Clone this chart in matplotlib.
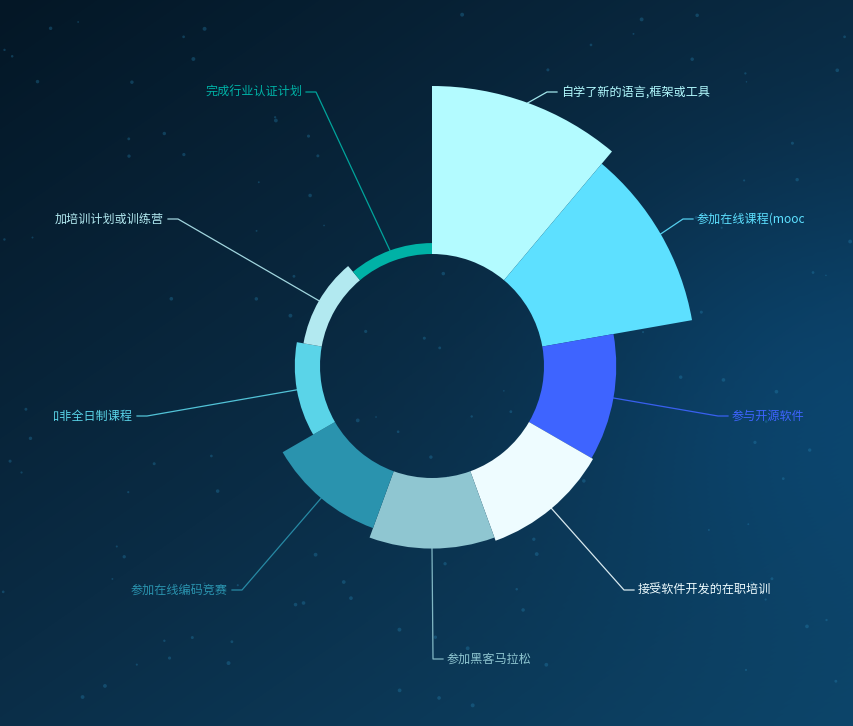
import numpy as np
import matplotlib
matplotlib.use("Agg")
import matplotlib.pyplot as plt
from matplotlib.colors import LinearSegmentedColormap
from matplotlib.transforms import Bbox, TransformedBbox

plt.rcParams['font.family'] = ['Noto Sans CJK SC', 'DejaVu Sans']

# data (clockwise from 12 o'clock)
labels = ['自学了新的语言,框架或工具', '参加在线课程(mooc)', '参与开源软件',
          '接受软件开发的在职培训', '参加黑客马拉松', '参加在线编码竞赛',
          '参加非全日制课程', '加培训计划或训练营', '完成行业认证计划']
values = [100, 90.5, 43, 44, 42, 36, 15, 11, 6.5]
colors = ['#b3fbff', '#5de0ff', '#3e64ff', '#eefcff', '#8fc6d1',
          '#2a93ae', '#5ad4e8', '#b2e9f0', '#00b2a6']

# label anchor (text x, y in pixels from top-left), alignment side
label_pos = [(561, 92), (697, 219), (732, 416), (638, 590), (447, 659),
             (228, 590), (133, 416), (164, 219), (302, 92)]
label_side = ['left', 'left', 'left', 'left', 'left',
              'right', 'right', 'right', 'right']

W, H = 854, 726
cx, cy = 432, 366          # centre, pixels from top-left
r_in, r_out = 112, 280     # inner / max radius in pixels
R = 290                    # radial axis limit

fig = plt.figure(figsize=(W / 100, H / 100), dpi=100)

# background
bg = fig.add_axes([0, 0, 1, 1])
yy, xx = np.mgrid[0:H, 0:W]
t = 0.55 * (yy / H) + 0.45 * (xx / W)
glow = np.exp(-(((xx - 820) / 260.0) ** 2 + ((yy - 380) / 220.0) ** 2))
cmap = LinearSegmentedColormap.from_list('bg', ['#041726', '#0a2c45', '#0d4468'])
img = cmap(np.clip(t, 0, 1))[:, :, :3]
img = img + glow[..., None] * np.array([0.0, 0.05, 0.09])
bg.imshow(np.clip(img, 0, 1), extent=[0, W, H, 0], aspect='auto')
rng = np.random.default_rng(7)
sx, sy = rng.uniform(0, W, 140), rng.uniform(0, H, 140)
bg.scatter(sx, sy, s=rng.uniform(1, 8, 140), c='#2a8fbf',
           alpha=0.3, linewidths=0)
bg.set_xlim(0, W)
bg.set_ylim(H, 0)
bg.axis('off')

# rose chart on a polar axes, radial units = pixels
ax = fig.add_axes([(cx - R) / W, (H - cy - R) / H, 2 * R / W, 2 * R / H],
                  projection='polar')
ax.set_theta_zero_location('N')
ax.set_theta_direction(-1)
ax.set_ylim(0, R)
ax.axis('off')
ax.patch.set_alpha(0)

n = len(values)
width = 2 * np.pi / n
theta = np.arange(n) * width + width / 2
vmax = max(values)
radii = [r_in + (r_out - r_in) * v / vmax for v in values]
heights = [r - r_in for r in radii]
ax.bar(theta, heights, width=width, bottom=r_in, color=colors,
       linewidth=0, align='center')

# leader lines + labels in pixel coordinates (overlay)
ov = fig.add_axes([0, 0, 1, 1])
ov.set_xlim(0, W)
ov.set_ylim(H, 0)
ov.axis('off')
ov.patch.set_alpha(0)
clip_box = TransformedBbox(Bbox([[54, 0], [804, H]]), ov.transData)
fig.canvas.draw()
for i in range(n):
    px, py = ax.transData.transform((theta[i], radii[i]))
    py = H - py
    lx, ly = label_pos[i]
    if label_side[i] == 'left':
        bend = (lx - 14, ly)
        end = (lx - 4, ly)
    else:
        bend = (lx + 14, ly)
        end = (lx + 4, ly)
    ov.plot([px, bend[0], end[0]], [py, bend[1], end[1]],
            color=colors[i], lw=0.9, alpha=0.9)
    txt = ov.text(lx, ly, labels[i], color=colors[i], fontsize=8.7,
                  ha=label_side[i], va='center')
    txt.set_clip_box(clip_box)
    txt.set_clip_on(True)

fig.savefig('out.png', dpi=100)
